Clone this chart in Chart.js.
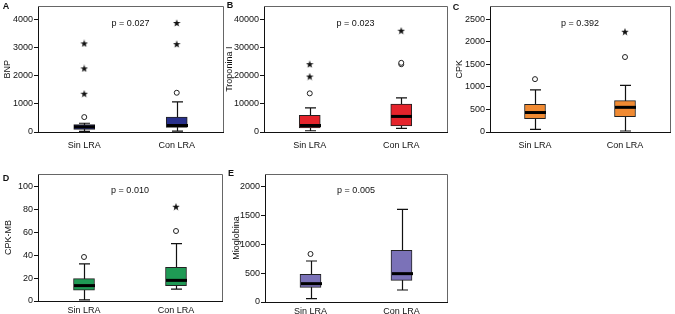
<!DOCTYPE html>
<html>
<head>
<meta charset="utf-8">
<script src="https://cdn.jsdelivr.net/npm/chart.js@4"></script>
<style>
  body { margin: 0; background: #fff; width: 675px; height: 314px; position: relative; overflow: hidden; }
  .p { position: absolute; }
</style>
</head>
<body>
<div class="p" style="left:0;top:0;width:228px;height:152px"><canvas id="cA"></canvas></div>
<div class="p" style="left:224px;top:0;width:228px;height:152px"><canvas id="cB"></canvas></div>
<div class="p" style="left:452px;top:0;width:223px;height:152px"><canvas id="cC"></canvas></div>
<div class="p" style="left:0;top:162px;width:228px;height:152px"><canvas id="cD"></canvas></div>
<div class="p" style="left:224px;top:162px;width:228px;height:152px"><canvas id="cE"></canvas></div>
<script>
const groups = ['Sin LRA', 'Con LRA'];

// A - BNP
const bnpTicks = [0, 1000, 2000, 3000, 4000];
const bnpLow = [20, 30];
const bnpQ1 = [93, 161];
const bnpMed = [183, 230];
const bnpQ3 = [265, 528];
const bnpHigh = [310, 1070];
const bnpCircles = [[528], [1390]];
const bnpStars = [[1355, 2252, 3138], [3114, 3862]];

// B - Troponina I
const tropTicks = [0, 10000, 20000, 30000, 40000];
const tropLow = [450, 1276];
const tropQ1 = [1483, 2172];
const tropMed = [2310, 5517];
const tropQ3 = [5862, 9896];
const tropHigh = [8517, 12069];
const tropCircles = [[13690], [24000, 24500]];
const tropStars = [[19655, 24030], [35860]];

// C - CPK
const cpkTicks = [0, 500, 1000, 1500, 2000, 2500];
const cpkLow = [57, 22];
const cpkQ1 = [295, 338];
const cpkMed = [431, 546];
const cpkQ3 = [610, 696];
const cpkHigh = [933, 1034];
const cpkCircles = [[1170], [1659]];
const cpkStars = [[], [2220]];

// D - CPK-MB
const mbTicks = [0, 20, 40, 60, 80, 100];
const mbLow = [0.9, 10.5];
const mbQ1 = [9.6, 13.5];
const mbMed = [13.5, 18.1];
const mbQ3 = [19.6, 29.5];
const mbHigh = [32.5, 50.3];
const mbCircles = [[38.6], [61.4]];
const mbStars = [[], [82.7]];

// E - Mioglobina
const mioTicks = [0, 500, 1000, 1500, 2000];
const mioLow = [58, 209];
const mioQ1 = [255, 377];
const mioMed = [319, 493];
const mioQ3 = [481, 899];
const mioHigh = [713, 1612];
const mioCircles = [[835], []];
const mioStars = [[], []];

const FONT = '"Liberation Sans Narrow", "Liberation Sans", Arial, sans-serif';

// small filled star used for extreme values
const star = document.createElement('canvas');
star.width = 8; star.height = 8;
(function () {
  const c = star.getContext('2d');
  c.fillStyle = '#111';
  c.beginPath();
  for (let i = 0; i < 10; i++) {
    const r = i % 2 ? 1.6 : 4;
    const a = -Math.PI / 2 + i * Math.PI / 5;
    c.lineTo(4 + r * Math.cos(a), 4.3 + r * Math.sin(a));
  }
  c.closePath();
  c.fill();
})();

const boxPlugin = {
  id: 'boxstats',
  beforeDatasetsDraw(chart, args, o) {
    const ctx = chart.ctx, x = chart.scales.x, y = chart.scales.y;
    ctx.save();
    ctx.strokeStyle = '#111';
    ctx.lineWidth = 1.2;
    groups.forEach((g, i) => {
      const px = Math.round(x.getPixelForValue(i)) + 0.5;
      const lo = y.getPixelForValue(o.low[i]), hi = y.getPixelForValue(o.high[i]);
      ctx.beginPath();
      ctx.moveTo(px, lo); ctx.lineTo(px, hi);
      ctx.moveTo(px - 5.5, lo); ctx.lineTo(px + 5.5, lo);
      ctx.moveTo(px - 5.5, hi); ctx.lineTo(px + 5.5, hi);
      ctx.stroke();
    });
    ctx.restore();
  },
  afterDatasetsDraw(chart, args, o) {
    const ctx = chart.ctx, x = chart.scales.x, y = chart.scales.y;
    ctx.save();
    ctx.strokeStyle = '#000';
    ctx.lineWidth = 3;
    groups.forEach((g, i) => {
      const px = Math.round(x.getPixelForValue(i)) + 0.5;
      const m = y.getPixelForValue(o.med[i]);
      ctx.beginPath();
      ctx.moveTo(px - 10.5, m); ctx.lineTo(px + 10.5, m);
      ctx.stroke();
    });
    ctx.restore();
  },
  afterDraw(chart, args, o) {
    const ctx = chart.ctx, a = chart.chartArea;
    ctx.save();
    ctx.strokeStyle = '#666';
    ctx.lineWidth = 1;
    ctx.beginPath();
    ctx.moveTo(a.left, Math.round(a.top) + 0.5);
    ctx.lineTo(Math.round(a.right) + 0.5, Math.round(a.top) + 0.5);
    ctx.lineTo(Math.round(a.right) + 0.5, a.bottom);
    ctx.stroke();
    ctx.fillStyle = '#111';
    ctx.font = '9px ' + FONT;
    ctx.textAlign = 'center';
    ctx.textBaseline = 'middle';
    ctx.fillText(o.p, (a.left + a.right) / 2, a.top + 17);
    ctx.font = 'bold 9px ' + FONT;
    ctx.fillText(o.letter, o.lx, o.ly);
    ctx.restore();
  }
};

function toPoints(lists) {
  return groups.flatMap((g, i) => lists[i].map(v => ({ x: g, y: v })));
}

function panel(id, s) {
  new Chart(document.getElementById(id), {
    type: 'bar',
    data: {
      labels: groups,
      datasets: [
        {
          data: groups.map((g, i) => [s.q1[i], s.q3[i]]),
          backgroundColor: s.color,
          borderColor: '#222',
          borderWidth: 1,
          borderSkipped: false,
          barThickness: 21
        },
        {
          type: 'line',
          data: toPoints(s.circles),
          showLine: false,
          pointStyle: 'circle',
          pointRadius: 2.5,
          pointBackgroundColor: '#fff',
          pointBorderColor: '#222',
          pointBorderWidth: 1
        },
        {
          type: 'line',
          data: toPoints(s.stars),
          showLine: false,
          pointStyle: star,
          pointRadius: 4
        }
      ]
    },
    options: {
      responsive: true,
      maintainAspectRatio: false,
      animation: false,
      events: [],
      layout: { padding: { top: s.padTop, right: s.padRight, left: 0, bottom: 0 } },
      plugins: {
        legend: { display: false },
        tooltip: { enabled: false },
        boxstats: { low: s.low, med: s.med, high: s.high, p: s.p, letter: s.letter, lx: s.lx, ly: s.ly }
      },
      scales: {
        x: {
          border: { color: '#111', width: 1 },
          grid: { display: false, drawTicks: false },
          ticks: { color: '#111', padding: s.xPad, font: { family: FONT, size: 9 } },
          afterFit(sc) { sc.height = s.xHeight; }
        },
        y: {
          min: 0,
          max: s.max,
          border: { color: '#111', width: 1 },
          grid: { drawOnChartArea: false, tickLength: 4, color: '#111' },
          afterBuildTicks(sc) { sc.ticks = s.ticks.map(v => ({ value: v })); },
          ticks: {
            padding: 1,
            color: '#111',
            font: { family: FONT, size: 9 },
            callback: v => String(v)
          },
          title: {
            display: true,
            text: s.title,
            color: '#111',
            padding: { top: s.titlePad, bottom: 0 },
            font: { family: FONT, size: 9 }
          },
          afterFit(sc) { sc.width = s.yWidth; }
        }
      }
    },
    plugins: [boxPlugin]
  });
}

panel('cA', {
  low: bnpLow, q1: bnpQ1, med: bnpMed, q3: bnpQ3, high: bnpHigh,
  circles: bnpCircles, stars: bnpStars, color: '#28308c', ticks: bnpTicks,
  max: 4448, title: 'BNP', p: 'p = 0.027', letter: 'A', lx: 6, ly: 7,
  padTop: 3, padRight: 5, yWidth: 38, xHeight: 20, xPad: 8, titlePad: 2
});
panel('cB', {
  low: tropLow, q1: tropQ1, med: tropMed, q3: tropQ3, high: tropHigh,
  circles: tropCircles, stars: tropStars, color: '#e5232b', ticks: tropTicks,
  max: 44483, title: 'Troponina I', p: 'p = 0.023', letter: 'B', lx: 6, ly: 6,
  padTop: 3, padRight: 5, yWidth: 40, xHeight: 20, xPad: 8, titlePad: 0
});
panel('cC', {
  low: cpkLow, q1: cpkQ1, med: cpkMed, q3: cpkQ3, high: cpkHigh,
  circles: cpkCircles, stars: cpkStars, color: '#f08a32', ticks: cpkTicks,
  max: 2780, title: 'CPK', p: 'p = 0.392', letter: 'C', lx: 4, ly: 8,
  padTop: 3, padRight: 5, yWidth: 38, xHeight: 20, xPad: 8, titlePad: 2
});
panel('cD', {
  low: mbLow, q1: mbQ1, med: mbMed, q3: mbQ3, high: mbHigh,
  circles: mbCircles, stars: mbStars, color: '#1f9a55', ticks: mbTicks,
  max: 111.4, title: 'CPK-MB', p: 'p = 0.010', letter: 'D', lx: 6, ly: 17,
  padTop: 12, padRight: 6, yWidth: 38, xHeight: 13, xPad: 4, titlePad: 3
});
panel('cE', {
  low: mioLow, q1: mioQ1, med: mioMed, q3: mioQ3, high: mioHigh,
  circles: mioCircles, stars: mioStars, color: '#7b72b8', ticks: mioTicks,
  max: 2226, title: 'Mioglobina', p: 'p = 0.005', letter: 'E', lx: 7, ly: 12,
  padTop: 12, padRight: 4, yWidth: 41, xHeight: 12, xPad: 4, titlePad: 7
});
</script>
</body>
</html>
